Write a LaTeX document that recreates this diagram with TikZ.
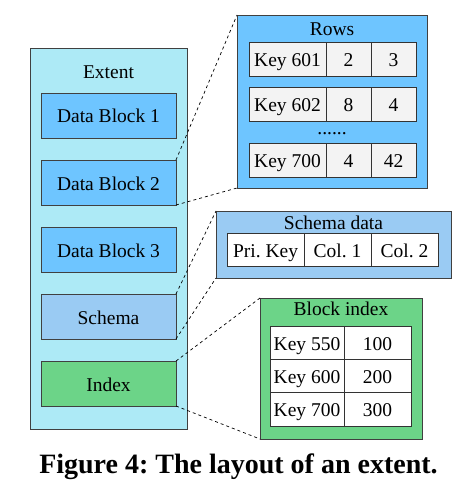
\documentclass[tikz,border=0pt]{standalone}
\usepackage{fontspec}
\setmainfont{Liberation Serif}
\usetikzlibrary{positioning}

\definecolor{extentcyan}{RGB}{173,234,246}
\definecolor{blockblue}{RGB}{110,197,255}
\definecolor{schemablue}{RGB}{154,203,243}
\definecolor{indexgreen}{RGB}{108,212,136}
\definecolor{cellgray}{RGB}{243,243,243}

\begin{document}
\frenchspacing
\begin{tikzpicture}[
  x=1pt, y=-1pt,
  node distance=22pt,
  font=\fontsize{19.5}{22}\selectfont,
  frame/.style={draw=black!75,line width=0.8pt,inner sep=0pt,outer sep=0pt},
  block/.style={frame,minimum width=135pt,minimum height=45pt,text height=16pt,text depth=1pt},
  cell/.style={draw=black!80,line width=0.8pt,fill=#1,inner sep=0pt,outer sep=0pt,
    text height=16pt,text depth=1pt},
  cell/.default=white,
  zoomline/.style={line width=0.7pt,dash pattern=on 3pt off 3pt}
]
  \useasboundingbox (0,0) rectangle (475,486);

  % extent with its blocks
  \node[frame,fill=extentcyan,minimum width=157pt,minimum height=381pt] (extent) at (108.5,238.5) {};
  \node (extentlabel) at (108.5,72) {Extent};
  \node[block,fill=blockblue] (block1) at (108.5,115.5) {Data Block 1};
  \node[block,fill=blockblue,below=of block1] (block2) {Data Block 2};
  \node[block,fill=blockblue,below=of block2] (block3) {Data Block 3};
  \node[block,fill=schemablue,below=of block3] (schema) {Schema};
  \node[block,fill=indexgreen,below=of schema] (index) {Index};

  % rows
  \node[frame,fill=blockblue,minimum width=190pt,minimum height=173pt] (rows) at (332,101.5) {};
  \node (rowslabel) at (332,29) {Rows};
  \foreach \key/\a/\b/\y/\n in {601/2/3/59/1,602/8/4/104/2,700/4/42/160/3} {
    \node[cell=cellgray,minimum width=77pt,minimum height=34pt] (rkey\n) at (287.5,\y) {Key \key};
    \node[cell=cellgray,minimum width=45pt,minimum height=34pt,right=0pt of rkey\n] (ra\n) {\a};
    \node[cell=cellgray,minimum width=45pt,minimum height=34pt,right=0pt of ra\n] (rb\n) {\b};
  }
  \node (rowdots) at (332,134) {......};

  % schema data
  \node[frame,fill=schemablue,minimum width=235pt,minimum height=67pt] (schemadata) at (333.5,244.5) {};
  \node (schemalabel) at (333.5,223) {Schema data};
  \node[cell,minimum width=77pt,minimum height=33pt] (pkey) at (265.5,249.5) {Pri. Key};
  \node[cell,minimum width=67pt,minimum height=33pt,right=0pt of pkey] (col1) {Col. 1};
  \node[cell,minimum width=67pt,minimum height=33pt,right=0pt of col1] (col2) {Col. 2};

  % block index
  \node[frame,fill=indexgreen,minimum width=162pt,minimum height=141pt] (blockindex) at (341,368.5) {};
  \node (indexlabel) at (341,309) {Block index};
  \foreach \key/\v/\y/\n in {550/100/342.7/1,600/200/376/2,700/300/409.3/3} {
    \node[cell,minimum width=74pt,minimum height=33.3pt] (ikey\n) at (307,\y) {Key \key};
    \node[cell,minimum width=67pt,minimum height=33.3pt,right=0pt of ikey\n] (ival\n) {\v};
  }

  % zoom lines
  \draw[zoomline] (block2.north east) -- (rows.north west);
  \draw[zoomline] (block2.south east) -- (rows.south west);
  \draw[zoomline] (schema.north east) -- (schemadata.north west);
  \draw[zoomline] (schema.south east) -- (schemadata.south west);
  \draw[zoomline] (index.north east) -- (blockindex.north west);
  \draw[zoomline] (index.south east) -- (blockindex.south west);

  \node[font=\fontsize{28}{31}\selectfont\bfseries,anchor=base] (caption) at (238.5,473) {Figure 4: The layout of an extent.};
\end{tikzpicture}
\end{document}
